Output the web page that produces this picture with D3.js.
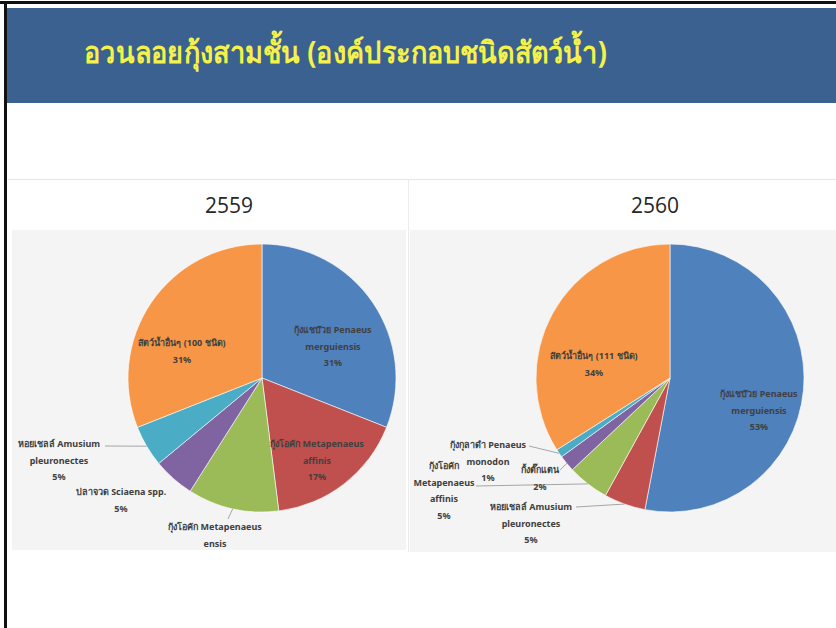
<!DOCTYPE html>
<html>
<head>
<meta charset="utf-8">
<script src="https://cdn.jsdelivr.net/npm/d3@7"></script>
<style>
  html, body { margin: 0; padding: 0; background: #ffffff; }
  svg { display: block; }
</style>
</head>
<body>
<svg id="chart" width="836" height="628"></svg>
<script>
// Catch composition of the three-layer shrimp trammel net, by year
const titleText = "อวนลอยกุ้งสามชั้น (องค์ประกอบชนิดสัตว์น้ำ)";
const years = ["2559", "2560"];

const labels2559 = [
  "กุ้งแชบ๊วย Penaeus merguiensis",
  "กุ้งโอคัก Metapenaeus affinis",
  "กุ้งโอคัก Metapenaeus ensis",
  "ปลาจวด Sciaena spp.",
  "หอยเชลล์ Amusium pleuronectes",
  "สัตว์น้ำอื่นๆ (100 ชนิด)"
];
const values2559 = [31, 17, 11, 5, 5, 31];

const labels2560 = [
  "กุ้งแชบ๊วย Penaeus merguiensis",
  "หอยเชลล์ Amusium pleuronectes",
  "กุ้งโอคัก Metapenaeus affinis",
  "กั้งตั๊กแตน",
  "กุ้งกุลาดำ Penaeus monodon",
  "สัตว์น้ำอื่นๆ (111 ชนิด)"
];
const values2560 = [53, 5, 5, 2, 1, 34];

const sliceColors = ["#4F81BD", "#C0504D", "#9BBB59", "#8064A2", "#4BACC6", "#F79646"];

// Label layout: line breaks, block position and optional leader start
const layout2559 = [
  { lines: ["กุ้งแชบ๊วย Penaeus", "merguiensis"], x: 333, y: 333 },
  { lines: ["กุ้งโอคัก Metapenaeus", "affinis"], x: 317, y: 447 },
  { lines: ["กุ้งโอคัก Metapenaeus", "ensis"], x: 215, y: 530, leader: [228, 519] },
  { lines: ["ปลาจวด Sciaena spp."], x: 121, y: 495 },
  { lines: ["หอยเชลล์ Amusium", "pleuronectes"], x: 59, y: 447, leader: [105, 446] },
  { lines: ["สัตว์น้ำอื่นๆ (100 ชนิด)"], x: 182, y: 346 }
];
const layout2560 = [
  { lines: ["กุ้งแชบ๊วย Penaeus", "merguiensis"], x: 759, y: 397 },
  { lines: ["หอยเชลล์ Amusium", "pleuronectes"], x: 531, y: 510, leader: [576, 507] },
  { lines: ["กุ้งโอคัก", "Metapenaeus", "affinis"], x: 444, y: 469, leader: [476, 486] },
  { lines: ["กั้งตั๊กแตน"], x: 540, y: 473, leader: [560, 470] },
  { lines: ["กุ้งกุลาดำ Penaeus", "monodon"], x: 488, y: 448, leader: [529, 446] },
  { lines: ["สัตว์น้ำอื่นๆ (111 ชนิด)"], x: 594, y: 359 }
];

const charts = [
  { year: years[0], labels: labels2559, values: values2559, layout: layout2559,
    cx: 262, cy: 378, titleX: 229, panel: [12, 230, 394, 320] },
  { year: years[1], labels: labels2560, values: values2560, layout: layout2560,
    cx: 670, cy: 378, titleX: 655, panel: [410, 230, 426, 322] }
];

const svg = d3.select("#chart");
const labelFont = "'Noto Sans', 'DejaVu Sans', sans-serif";

// slide frame
svg.append("rect").attr("x", 0).attr("y", 0).attr("width", 836).attr("height", 628).attr("fill", "#ffffff");
svg.append("rect").attr("x", 0).attr("y", 1).attr("width", 836).attr("height", 3).attr("fill", "#111111");
svg.append("rect").attr("x", 4).attr("y", 1).attr("width", 3).attr("height", 627).attr("fill", "#111111");

// title banner
svg.append("rect").attr("x", 7).attr("y", 8).attr("width", 829).attr("height", 95).attr("fill", "#3A6190");
svg.append("text")
  .attr("x", 84).attr("y", 63)
  .attr("fill", "#F4F24A")
  .attr("font-family", labelFont)
  .attr("font-size", 30)
  .attr("font-weight", "bold")
  .attr("textLength", 523)
  .attr("lengthAdjust", "spacingAndGlyphs")
  .text(titleText);

// faint separator of the pasted chart area
svg.append("line").attr("x1", 8).attr("x2", 836).attr("y1", 179.5).attr("y2", 179.5)
  .attr("stroke", "#e6e6e6").attr("stroke-width", 1);
svg.append("line").attr("x1", 408.5).attr("x2", 408.5).attr("y1", 180).attr("y2", 552)
  .attr("stroke", "#ececec").attr("stroke-width", 1);

const radius = 134;
const pie = d3.pie().sort(null).value(d => d);
const arc = d3.arc().innerRadius(0).outerRadius(radius);
const lineH = 16.5;

charts.forEach((c, ci) => {
  const [px, py, pw, ph] = c.panel;
  const clipId = "clip" + ci;
  svg.append("clipPath").attr("id", clipId)
    .append("rect").attr("x", px).attr("y", py).attr("width", pw).attr("height", ph);

  svg.append("rect").attr("x", px).attr("y", py).attr("width", pw).attr("height", ph)
    .attr("fill", "#F4F4F4");

  svg.append("text")
    .attr("x", c.titleX).attr("y", 213)
    .attr("text-anchor", "middle")
    .attr("fill", "#262626")
    .attr("font-family", "'Open Sans', 'Liberation Sans', sans-serif")
    .attr("font-size", 21)
    .text(c.year);

  const g = svg.append("g").attr("clip-path", `url(#${clipId})`);
  const slices = pie(c.values);
  const pg = g.append("g").attr("transform", `translate(${c.cx},${c.cy})`);
  pg.selectAll("path").data(slices).join("path")
    .attr("d", arc)
    .attr("fill", (d, i) => sliceColors[i])
    .attr("stroke", "#ffffff").attr("stroke-width", 0.6);

  // leader lines from label to the slice edge
  slices.forEach((s, i) => {
    const L = c.layout[i];
    if (!L.leader) return;
    const mid = (s.startAngle + s.endAngle) / 2;
    const ex = c.cx + Math.sin(mid) * radius;
    const ey = c.cy - Math.cos(mid) * radius;
    g.append("line")
      .attr("x1", L.leader[0]).attr("y1", L.leader[1])
      .attr("x2", ex).attr("y2", ey)
      .attr("stroke", "#A6A6A6").attr("stroke-width", 1);
  });

  // data labels: name lines then percentage
  slices.forEach((s, i) => {
    const L = c.layout[i];
    const lines = L.lines.concat([c.values[i] + "%"]);
    const t = g.append("text")
      .attr("text-anchor", "middle")
      .attr("fill", "#404040")
      .attr("font-family", labelFont)
      .attr("font-size", 9)
      .attr("font-weight", "bold");
    lines.forEach((ln, k) => {
      t.append("tspan").attr("x", L.x).attr("y", L.y + k * lineH).text(ln);
    });
  });
});
</script>
</body>
</html>
